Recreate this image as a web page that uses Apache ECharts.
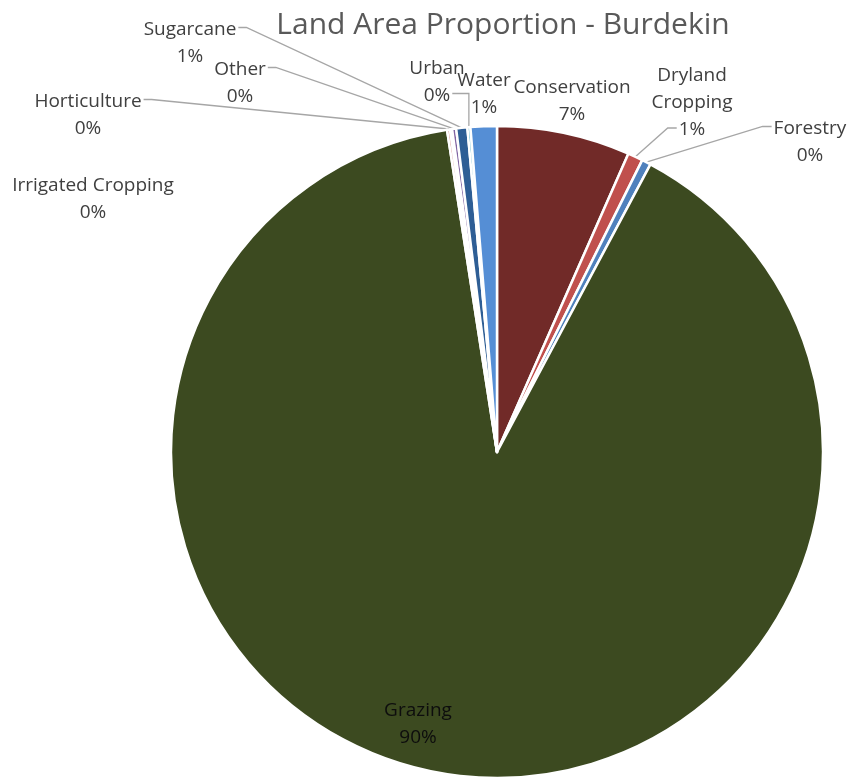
<!DOCTYPE html>
<html>
<head>
<meta charset="utf-8">
<title>Land Area Proportion - Burdekin</title>
<script src="https://cdn.jsdelivr.net/npm/echarts@6/dist/echarts.min.js"></script>
<style>
  html, body { margin: 0; padding: 0; background: #ffffff; }
  #chart { width: 851px; height: 778px; }
</style>
</head>
<body>
<div id="chart"></div>
<script>
// Land use categories, in clockwise order from 12 o'clock
const categories = [
  'Conservation', 'Dryland Cropping', 'Forestry', 'Grazing',
  'Irrigated Cropping', 'Horticulture', 'Other', 'Sugarcane', 'Urban', 'Water'
];
// Share of catchment land area (%)
const areaShare = [6.6, 0.75, 0.45, 89.75, 0.15, 0.1, 0.2, 0.55, 0.15, 1.3];

const sliceColors = [
  '#712A28', '#C0504D', '#4F81BD', '#3C4A20',
  '#D99694', '#9BBB59', '#8064A2', '#2E5E95', '#4BACC6', '#558ED5'
];

// Label placement: text-block centre, which side the leader attaches to
// ('left'/'right' of the text, or none), and which text line it meets.
const labelPlacement = {
  'Conservation':       { x: 572, y: 101, lead: null },
  'Dryland Cropping':   { x: 692, y: 103, lead: 'left', line: 'last' },
  'Forestry':           { x: 810, y: 142, lead: 'left', line: 'first' },
  'Grazing':            { x: 418, y: 724, lead: null },
  'Irrigated Cropping': { x: 93,  y: 199, lead: null },
  'Horticulture':       { x: 88,  y: 115, lead: 'right', line: 'first' },
  'Other':              { x: 240, y: 83,  lead: 'right', line: 'first' },
  'Sugarcane':          { x: 190, y: 43,  lead: 'right', line: 'first' },
  'Urban':              { x: 437, y: 82,  lead: 'right', line: 'last' },
  'Water':              { x: 484, y: 94,  lead: null }
};

const FONT = "'Open Sans', 'Noto Sans', sans-serif";
const LABEL_SIZE = 19;
const LINE_H = 27;

// Width of a single text line, so leaders meet the right line of text
const measureCtx = document.createElement('canvas').getContext('2d');
measureCtx.font = LABEL_SIZE + 'px ' + FONT;
const textWidth = s => measureCtx.measureText(s).width;

const labelText = (name, pct) =>
  (name === 'Dryland Cropping' ? 'Dryland\nCropping' : name) + '\n' + Math.round(pct) + '%';

const chart = echarts.init(document.getElementById('chart'), null, { renderer: 'canvas' });

chart.setOption({
  animation: false,
  backgroundColor: '#ffffff',
  title: {
    text: 'Land Area Proportion - Burdekin',
    left: 498,
    textAlign: 'center',
    top: 5,
    textStyle: { fontFamily: FONT, fontSize: 30, fontWeight: 'normal', color: '#595959' }
  },
  series: [{
    type: 'pie',
    center: [497, 452],
    radius: 326,
    startAngle: 90,
    clockwise: true,
    avoidLabelOverlap: false,
    data: categories.map((name, i) => ({
      name: name,
      value: areaShare[i],
      itemStyle: { color: sliceColors[i] },
      label: name === 'Grazing' ? { color: '#0D0D0D' } : {},
      labelLine: { show: !!labelPlacement[name].lead }
    })),
    itemStyle: { borderColor: '#ffffff', borderWidth: 2.5 },
    label: {
      show: true,
      position: 'outside',
      fontFamily: FONT,
      fontSize: LABEL_SIZE,
      lineHeight: LINE_H,
      color: '#404040',
      align: 'center',
      formatter: p => labelText(p.name, p.percent)
    },
    labelLine: {
      show: true,
      length: 10,
      length2: 10,
      lineStyle: { color: '#A6A6A6', width: 1.3 }
    },
    labelLayout: function (params) {
      const name = categories[params.dataIndex];
      const spot = labelPlacement[name];
      const out = { x: spot.x, y: spot.y, align: 'center', verticalAlign: 'middle' };
      if (spot.lead && params.labelLinePoints) {
        const start = params.labelLinePoints[0];
        const lines = params.text.split('\n');
        const blockH = lines.length * LINE_H;
        const lineIdx = spot.line === 'first' ? 0 : lines.length - 1;
        const lineY = spot.y - blockH / 2 + LINE_H * (lineIdx + 0.5) - 2;
        const half = textWidth(lines[lineIdx]) / 2;
        let endX, elbowX;
        if (spot.lead === 'right') {
          endX = spot.x + half + 2;
          elbowX = endX + 8;
        } else {
          endX = spot.x - half - 2;
          elbowX = endX - 9;
        }
        const elbow = name === 'Urban' ? [start[0], lineY] : [elbowX, lineY];
        out.labelLinePoints = [start, elbow, [endX, lineY]];
      }
      return out;
    }
  }]
});
</script>
</body>
</html>
